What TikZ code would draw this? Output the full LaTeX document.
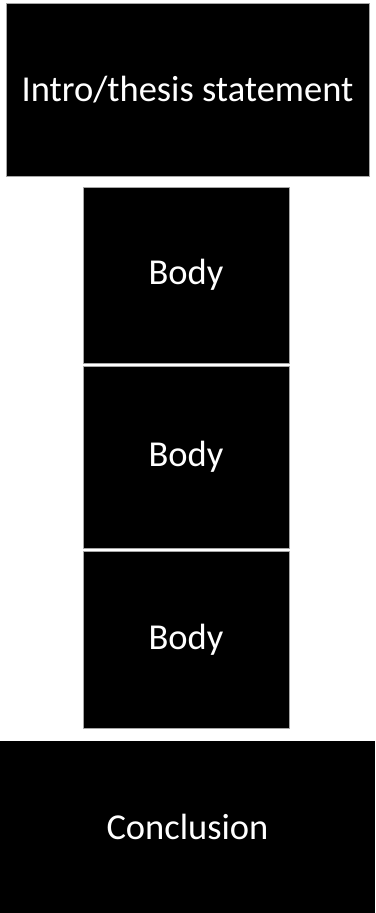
\documentclass[tikz,border=0pt]{standalone}
\usepackage{fontspec}
\setmainfont{Carlito}
\usepackage{xcolor}
\definecolor{PBEdge}{HTML}{A6A6A6}
\tikzset{
  pbbox/.style={fill=black,draw=PBEdge,line width=.6pt,text=white,inner sep=0pt,
    font=\fontsize{36.5}{42}\selectfont},
}

\begin{document}
\begin{tikzpicture}[x=1pt,y=-1pt]
\path[use as bounding box] (0,0) rectangle (375,913);
\node[pbbox,minimum width=363pt,minimum height=173pt] (intro) at (187.5,89.5) {Intro/thesis statement};
\node[pbbox,minimum width=206pt,minimum height=176pt] (bodya) at (186,275) {Body};
\node[pbbox,minimum width=206pt,minimum height=182pt] (bodyb) at (186,457) {Body};
\node[pbbox,minimum width=206pt,minimum height=177pt] (bodyc) at (186,639.5) {Body};
\node[pbbox,draw=none,minimum width=375pt,minimum height=172pt] (concl) at (187.5,827) {Conclusion};
\end{tikzpicture}
\end{document}
